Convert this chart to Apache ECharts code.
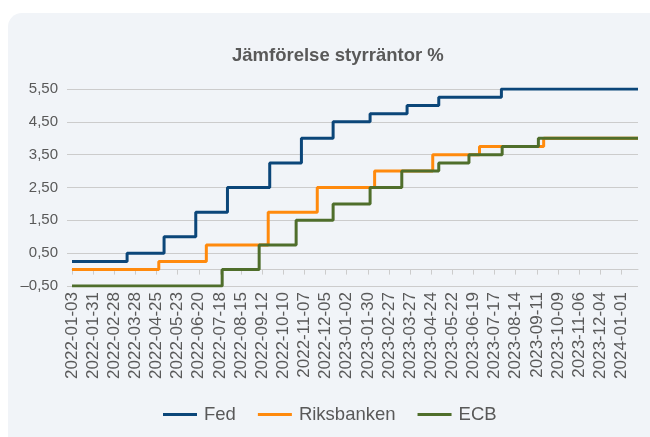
<!DOCTYPE html>
<html>
<head>
<meta charset="utf-8">
<script src="https://cdn.jsdelivr.net/npm/echarts@6/dist/echarts.min.js"></script>
<style>
  html, body { margin: 0; padding: 0; background: #ffffff; }
  #panel {
    position: absolute; left: 8px; top: 13px; width: 660px; height: 440px;
    background: #f1f4f8; border-radius: 14px;
  }
  #chart { position: absolute; left: 0; top: 0; width: 650px; height: 437px; }
</style>
</head>
<body>
<div id="panel"></div>
<div id="chart"></div>
<script>
// axel: dagliga datum, etikett var 28:e dag
const startDate = '2022-01-03'
const endDate = '2024-01-23'

// räntebeslut: [datum, ny ränta]
const fedDates = ['2022-01-03', '2022-03-17', '2022-05-05', '2022-06-16', '2022-07-28', '2022-09-22',
  '2022-11-03', '2022-12-15', '2023-02-02', '2023-03-23', '2023-05-04', '2023-07-26']
const fedRates = [0.25, 0.50, 1.00, 1.75, 2.50, 3.25, 4.00, 4.50, 4.75, 5.00, 5.25, 5.50]

const riksDates = ['2022-01-03', '2022-04-28', '2022-06-30', '2022-09-20', '2022-11-24',
  '2023-02-08', '2023-04-26', '2023-06-27', '2023-09-20']
const riksRates = [0.00, 0.25, 0.75, 1.75, 2.50, 3.00, 3.50, 3.75, 4.00]

const ecbDates = ['2022-01-03', '2022-07-21', '2022-09-08', '2022-10-27', '2022-12-15',
  '2023-02-02', '2023-03-16', '2023-05-04', '2023-06-13', '2023-07-27', '2023-09-13']
const ecbRates = [-0.50, 0.00, 0.75, 1.50, 2.00, 2.50, 3.00, 3.25, 3.50, 3.75, 4.00]

const seriesNames = ['Fed', 'Riksbanken', 'ECB']
const seriesColors = ['#0b4679', '#ff8a0d', '#4f6e2b']

const yMin = -0.5
const yMax = 5.5
const yStep = 1

function buildCategories() {
  const out = []
  const d = new Date(startDate + 'T00:00:00Z')
  const end = new Date(endDate + 'T00:00:00Z')
  while (d <= end) {
    out.push(d.toISOString().slice(0, 10))
    d.setUTCDate(d.getUTCDate() + 1)
  }
  return out
}
const categories = buildCategories()

const toPoints = (dates, rates) => {
  const pts = dates.map((dt, i) => [categories.indexOf(dt), rates[i]])
  pts.push([categories.length - 1, rates[rates.length - 1]])
  return pts
}

const fmtY = (v) => {
  const s = Math.abs(v).toFixed(2).replace('.', ',')
  return v < 0 ? '\u2013' + s : s
}

const font = '"Liberation Sans", Arial, sans-serif'
const textColor = '#595959'
const gridColor = '#cccccc'

const chart = echarts.init(document.getElementById('chart'))

const lineSeries = (i, dates, rates) => ({
  name: seriesNames[i],
  type: 'line',
  step: 'end',
  showSymbol: false,
  symbol: 'none',
  lineStyle: { width: 3, color: seriesColors[i] },
  itemStyle: { color: seriesColors[i] },
  data: toPoints(dates, rates)
})

chart.setOption({
  backgroundColor: 'transparent',
  animation: false,
  textStyle: { fontFamily: font },
  title: {
    text: 'Jämförelse styrräntor %',
    left: 227,
    top: 41,
    textStyle: { fontSize: 18.5, fontWeight: 'bold', color: textColor, fontFamily: font }
  },
  legend: {
    top: 400,
    left: 158,
    icon: 'rect',
    itemWidth: 34,
    itemHeight: 3,
    itemGap: 22,
    textStyle: { fontSize: 18.5, color: textColor, fontFamily: font, padding: [0, 0, 0, 2] },
    data: seriesNames
  },
  grid: { left: 72, right: 12, top: 89, bottom: 151 },
  xAxis: {
    type: 'category',
    data: categories,
    boundaryGap: false,
    axisLine: { show: true, lineStyle: { color: gridColor, width: 1 } },
    axisTick: { show: true, interval: 27, length: 5, lineStyle: { color: gridColor } },
    axisLabel: {
      interval: 27,
      rotate: 90,
      margin: 6,
      fontSize: 17,
      color: textColor,
      fontFamily: font
    },
    splitLine: { show: false }
  },
  yAxis: {
    type: 'value',
    min: yMin,
    max: yMax,
    interval: yStep,
    axisLine: { show: false },
    axisTick: { show: true, length: 5, lineStyle: { color: gridColor } },
    axisLabel: { formatter: fmtY, fontSize: 15, color: textColor, margin: 14, fontFamily: font },
    splitLine: { show: true, lineStyle: { color: gridColor, width: 1 } }
  },
  series: [
    lineSeries(0, fedDates, fedRates),
    lineSeries(1, riksDates, riksRates),
    lineSeries(2, ecbDates, ecbRates)
  ]
})
</script>
</body>
</html>
